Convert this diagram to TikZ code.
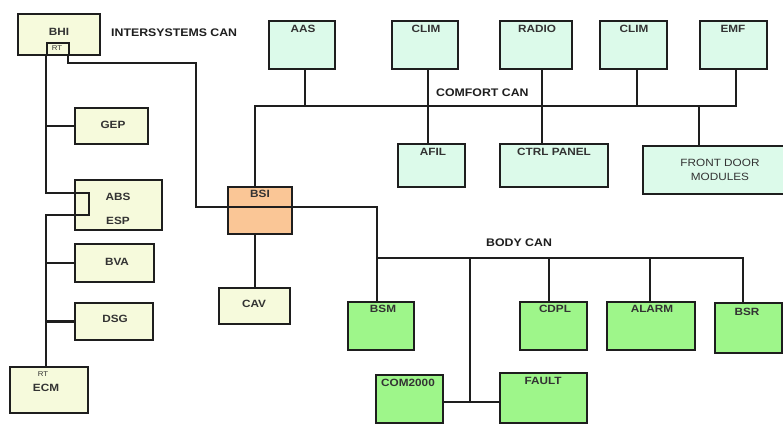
\documentclass[tikz,border=0pt]{standalone}
\usepackage{fontspec}
\setmainfont{Liberation Sans}
\newfontfamily\labfont[FakeStretch=1.12]{Liberation Sans}
\definecolor{ylw}{HTML}{F6FADC}
\definecolor{mint}{HTML}{DCFAEA}
\definecolor{grn}{HTML}{9EF68A}
\definecolor{org}{HTML}{FAC696}
\definecolor{ink}{HTML}{1E1E1E}
\definecolor{txt}{HTML}{333333}
\begin{document}
\begin{tikzpicture}[x=1pt,y=-1pt,
  box/.style={draw=ink, line width=2.3pt, inner sep=0pt, anchor=north west},
  wire/.style={draw=ink, line width=1.9pt},
  lbl/.style={font=\labfont\bfseries\fontsize{10.5}{12.5}\selectfont, inner sep=0pt, text=txt},
  sm/.style={font=\labfont\fontsize{7}{8}\selectfont, inner sep=0pt, text=txt},
  canlbl/.style={font=\labfont\bfseries\fontsize{11}{12}\selectfont, inner sep=0pt, text=ink, anchor=west}]
\useasboundingbox (0,0) rectangle (783,424);
\fill[white] (0,0) rectangle (783,424);
% ---- boxes ----
\node[box,fill=ylw,minimum width=82pt,minimum height=41pt] (bhi) at (17,13) {};
\node[box,fill=ylw,minimum width=22pt,minimum height=12pt] (rt) at (46,42) {};
\node[box,fill=ylw,minimum width=73pt,minimum height=36pt] (gep) at (74,107) {};
\node[box,fill=ylw,minimum width=87pt,minimum height=50pt] (abs) at (74,179) {};
\node[box,fill=ylw,minimum width=79pt,minimum height=38pt] (bva) at (74,243) {};
\node[box,fill=ylw,minimum width=78pt,minimum height=37pt] (dsg) at (74,302) {};
\node[box,fill=ylw,minimum width=78pt,minimum height=46pt] (ecm) at (9,366) {};
\node[box,fill=org,minimum width=64pt,minimum height=47pt] (bsi) at (227,186) {};
\node[box,fill=ylw,minimum width=71pt,minimum height=36pt] (cav) at (218,287) {};
\node[box,fill=mint,minimum width=66pt,minimum height=48pt] (aas) at (268,20) {};
\node[box,fill=mint,minimum width=66pt,minimum height=48pt] (climA) at (391,20) {};
\node[box,fill=mint,minimum width=72pt,minimum height=48pt] (radio) at (499,20) {};
\node[box,fill=mint,minimum width=67pt,minimum height=48pt] (climB) at (599,20) {};
\node[box,fill=mint,minimum width=67pt,minimum height=48pt] (emf) at (699,20) {};
\node[box,fill=mint,minimum width=67pt,minimum height=43pt] (afil) at (397,143) {};
\node[box,fill=mint,minimum width=108pt,minimum height=43pt] (ctrl) at (499,143) {};
\node[box,fill=mint,minimum width=150pt,minimum height=48pt] (fdm) at (642,145) {};
\node[box,fill=grn,minimum width=66pt,minimum height=48pt] (bsm) at (347,301) {};
\node[box,fill=grn,minimum width=67pt,minimum height=48pt] (cdpl) at (519,301) {};
\node[box,fill=grn,minimum width=88pt,minimum height=48pt] (alarm) at (606,301) {};
\node[box,fill=grn,minimum width=67pt,minimum height=50pt] (bsr) at (714,302) {};
\node[box,fill=grn,minimum width=67pt,minimum height=48pt] (com) at (375,374) {};
\node[box,fill=grn,minimum width=87pt,minimum height=50pt] (fault) at (499,372) {};
% ---- texts ----
\node[lbl] (tbhi) at (59,32) {BHI};
\node[sm] (trt) at (57,48) {RT};
\node[canlbl] (tis) at (111,33) {INTERSYSTEMS CAN};
\node[lbl] (tgep) at (113,125) {GEP};
\node[lbl] (tabs) at (118,197) {ABS};
\node[lbl] (tesp) at (118,221) {ESP};
\node[lbl] (tbva) at (117,262) {BVA};
\node[lbl] (tdsg) at (115,319) {DSG};
\node[sm] (tecmrt) at (43,374) {RT};
\node[lbl] (tecm) at (46,388) {ECM};
\node[lbl] (tbsi) at (260,194) {BSI};
\node[lbl] (tcav) at (254,304) {CAV};
\node[lbl] (taas) at (303,29) {AAS};
\node[lbl] (tclimA) at (426,29) {CLIM};
\node[lbl] (tradio) at (537,29) {RADIO};
\node[lbl] (tclimB) at (634,29) {CLIM};
\node[lbl] (temf) at (733,29) {EMF};
\node[canlbl] (tcc) at (436,93) {COMFORT CAN};
\node[lbl] (tafil) at (433,152) {AFIL};
\node[lbl] (tctrl) at (554,152) {CTRL PANEL};
\node[lbl,align=center,font=\labfont\fontsize{10.5}{14}\selectfont] (tfdm) at (720,170) {FRONT DOOR\\MODULES};
\node[canlbl] (tbc) at (486,243) {BODY CAN};
\node[lbl] (tbsm) at (383,309) {BSM};
\node[lbl] (tcdpl) at (555,309) {CDPL};
\node[lbl] (talarm) at (652,309) {ALARM};
\node[lbl] (tbsr) at (747,312) {BSR};
\node[lbl] (tcom) at (408,383) {COM2000};
\node[lbl] (tfault) at (543,381) {FAULT};
% ---- junction coordinates ----
\coordinate (abs1) at (46,193);
\coordinate (abs2) at (89,193);
\coordinate (abs3) at (89,215);
\coordinate (abs4) at (46,215);
\coordinate (isc1) at (68,63);
\coordinate (isc2) at (196,63);
\coordinate (cbL) at (255,106);
\coordinate (cbR) at (736,106);
\coordinate (bcL) at (377,258);
\coordinate (bcR) at (743,258);
\coordinate (bsiR) at (291,207);
\coordinate (bsiC) at (377,207);
\coordinate (bcM) at (470,258);
\coordinate (bcB) at (470,402);
\coordinate (dA) at (305,0);
\coordinate (dF) at (699,0);
\coordinate (dC) at (549,0);
\coordinate (dL) at (650,0);
% ---- intersystems CAN ----
\draw[wire] (abs1 |- rt.south) -- (abs1) -- (abs2) -- (abs3) -- (abs4) -- (abs4 |- ecm.north);
\draw[wire,line width=2.4pt] (abs1 |- gep.west) -- (gep.west);
\draw[wire] (abs1 |- bva.west) -- (bva.west);
\draw[wire,line width=2.4pt] (abs1 |- dsg.west) -- (dsg.west);
\draw[wire,line width=2.2pt] (isc1 |- rt.south) -- (isc1) -- (isc2) -- (isc2 |- bsiR) -- (bsiR);
% ---- comfort CAN ----
\draw[wire] (cbL |- bsi.north) -- (cbL) -- (cbR) -- (cbR |- emf.south);
\draw[wire] (dA |- aas.south) -- (dA |- cbL);
\draw[wire] ([xshift=3pt]climA.south) -- ([xshift=3pt]climA.south |- afil.north);
\draw[wire] ([xshift=6pt]radio.south) -- ([xshift=6pt]radio.south |- ctrl.north);
\draw[wire] ([xshift=3pt]climB.south) -- ([xshift=3pt]climB.south |- cbL);
\draw[wire] (dF |- cbL) -- (dF |- fdm.north);
% ---- body CAN ----
\draw[wire] (bsiR) -- (bsiC) -- (bsiC |- bsm.north);
\draw[wire] (bcL) -- (bcR) -- (bcR |- bsr.north);
\draw[wire] (dC |- bcL) -- (dC |- cdpl.north);
\draw[wire] (dL |- bcL) -- (dL |- alarm.north);
\draw[wire] (bcM) -- (bcB);
\draw[wire] (com.east |- bcB) -- (fault.west |- bcB);
% ---- BSI to CAV ----
\draw[wire] (cbL |- bsi.south) -- (cbL |- cav.north);
\end{tikzpicture}
\end{document}
